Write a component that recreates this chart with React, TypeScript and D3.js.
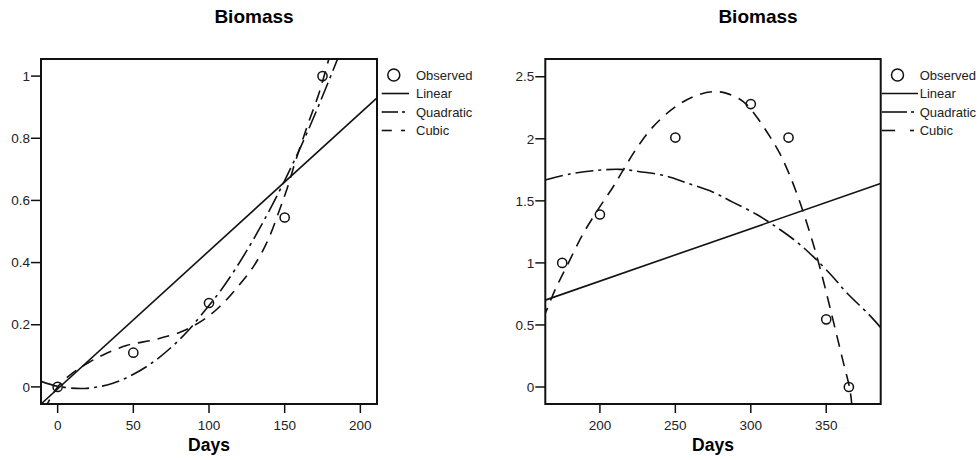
import React from 'react';
import * as d3 from 'd3';

// ---- data ----
const leftObserved: [number, number][] = [
  [0, 0], [50, 0.11], [100, 0.27], [150, 0.545], [175, 1.0],
];
const leftLinear: [number, number][] = [[-11, -0.055], [211, 0.93]];
const leftQuadratic: [number, number][] = [
  [-11, 0.018], [0, 0.002], [18, -0.005], [36, 0.011], [51, 0.043], [64, 0.083],
  [75, 0.127], [86, 0.18], [100, 0.262], [108, 0.312], [117, 0.376], [127, 0.455],
  [134, 0.515], [142, 0.587], [150, 0.664], [158, 0.745], [165, 0.82], [175, 0.935],
  [186, 1.068],
];
const leftCubic: [number, number][] = [
  [-9, -0.075], [0, 0.0], [10, 0.045], [20, 0.077], [31, 0.105], [46, 0.134],
  [64, 0.152], [82, 0.178], [96, 0.215], [107, 0.258], [119, 0.322], [130, 0.392],
  [139, 0.473], [147, 0.575], [152, 0.644], [157, 0.724], [165, 0.84], [173, 0.95],
  [180, 1.07],
];
const leftXTicks = [0, 50, 100, 150, 200];
const leftYTicks = [0, 0.2, 0.4, 0.6, 0.8, 1];

const rightObserved: [number, number][] = [
  [175, 1.0], [200, 1.39], [250, 2.01], [300, 2.28], [325, 2.01], [350, 0.545], [365, 0],
];
const rightLinear: [number, number][] = [[163.8, 0.7], [386, 1.64]];
const rightQuadratic: [number, number][] = [
  [163.8, 1.668], [180, 1.716], [195.6, 1.743], [213, 1.754], [226.5, 1.735],
  [244, 1.7], [257.4, 1.645], [275, 1.57], [288, 1.49], [304, 1.39], [315, 1.305],
  [330.3, 1.171], [341.4, 1.05], [354.6, 0.885], [363.5, 0.76], [377.8, 0.59], [386, 0.48],
];
const rightCubic: [number, number][] = [
  [162, 0.55], [163.8, 0.594], [170.2, 0.78], [179, 0.997], [189, 1.238], [200, 1.453],
  [208.8, 1.614], [215.5, 1.749], [224.3, 1.923], [235.3, 2.098], [248.6, 2.245],
  [261.9, 2.34], [275, 2.38], [284, 2.366], [295, 2.3], [303.8, 2.178], [312.7, 2.017],
  [319.3, 1.88], [326, 1.7], [332.5, 1.49], [339.2, 1.24], [343.6, 1.06], [348, 0.86],
  [352.4, 0.645], [356.8, 0.425], [361.3, 0.2], [365.7, -0.02], [367, -0.15],
];
const rightXTicks = [200, 250, 300, 350];
const rightYTicks = [0, 0.5, 1, 1.5, 2, 2.5];

const FONT = '"Liberation Sans", Arial, Helvetica, sans-serif';

type PanelProps = {
  id: string;
  x0: number;
  x1: number;
  xDomain: [number, number];
  yDomain: [number, number];
  xTicks: number[];
  yTicks: number[];
  observed: [number, number][];
  linear: [number, number][];
  quadratic: [number, number][];
  cubic: [number, number][];
  legendLine: [number, number];
};

const Panel = (p: PanelProps) => {
  const top = 59;
  const bottom = 404;
  const x = d3.scaleLinear().domain(p.xDomain).range([p.x0, p.x1]);
  const y = d3.scaleLinear().domain(p.yDomain).range([bottom, top]);

  const line = d3.line<[number, number]>()
    .x(d => x(d[0]))
    .y(d => y(d[1]))
    .curve(d3.curveCatmullRom.alpha(0.5));

  const [lx0, lx1] = p.legendLine;
  const legX = p.x1 + 39;
  const rows = [75, 93.5, 112, 130.5];
  const ink = '#111';

  return (
    <g>
      <defs>
        <clipPath id={p.id}>
          <rect x={p.x0} y={top} width={p.x1 - p.x0} height={bottom - top} />
        </clipPath>
      </defs>

      {/* title */}
      <text x={(p.x0 + p.x1) / 2 + 45} y={23} textAnchor="middle" fontFamily={FONT}
        fontSize={19} fontWeight="bold" fill="#000">Biomass</text>

      {/* curves */}
      <g clipPath={`url(#${p.id})`} fill="none" stroke={ink} strokeWidth={1.6}>
        <path d={line(p.linear) || ''} />
        <path d={line(p.quadratic) || ''} strokeDasharray="18,5,3,5" />
        <path d={line(p.cubic) || ''} strokeDasharray="12,8" />
      </g>

      {/* observed */}
      {p.observed.map((d, i) => (
        <circle key={i} cx={x(d[0])} cy={y(d[1])} r={4.6} fill="none" stroke={ink} strokeWidth={1.5} />
      ))}

      {/* frame */}
      <rect x={p.x0} y={top} width={p.x1 - p.x0} height={bottom - top} fill="none" stroke={ink} strokeWidth={2} />

      {/* y axis */}
      {p.yTicks.map(t => (
        <g key={'y' + t}>
          <line x1={p.x0 - 10} x2={p.x0} y1={y(t)} y2={y(t)} stroke={ink} strokeWidth={1.5} />
          <text x={p.x0 - 11} y={y(t)} dy="0.35em" textAnchor="end" fontFamily={FONT}
            fontSize={13.5} fill="#222">{d3.format('~g')(t)}</text>
        </g>
      ))}

      {/* x axis */}
      {p.xTicks.map(t => (
        <g key={'x' + t}>
          <line x1={x(t)} x2={x(t)} y1={bottom} y2={bottom + 9} stroke={ink} strokeWidth={1.5} />
          <text x={x(t)} y={430} textAnchor="middle" fontFamily={FONT}
            fontSize={13.5} fill="#222">{t}</text>
        </g>
      ))}
      <text x={(p.x0 + p.x1) / 2} y={451} textAnchor="middle" fontFamily={FONT}
        fontSize={17.5} fontWeight="bold" fill="#000">Days</text>

      {/* legend */}
      <g fontFamily={FONT} fontSize={13} fill="#222">
        <circle cx={p.x1 + 16.8} cy={rows[0]} r={6} fill="none" stroke={ink} strokeWidth={1.5} />
        <text x={legX} y={rows[0] + 4.5}>Observed</text>

        <line x1={lx0} x2={lx1} y1={rows[1]} y2={rows[1]} stroke={ink} strokeWidth={1.6} />
        <text x={legX} y={rows[1] + 4.5}>Linear</text>

        <line x1={lx0} x2={lx1 - 11} y1={rows[2]} y2={rows[2]} stroke={ink} strokeWidth={1.6} />
        <line x1={lx1 - 7} x2={lx1 - 4} y1={rows[2]} y2={rows[2]} stroke={ink} strokeWidth={1.6} />
        <text x={legX} y={rows[2] + 4.5}>Quadratic</text>

        <line x1={lx0} x2={lx0 + (lx1 - lx0) * 0.37} y1={rows[3]} y2={rows[3]} stroke={ink} strokeWidth={1.6} />
        <line x1={lx1 - 8} x2={lx1 - 4} y1={rows[3]} y2={rows[3]} stroke={ink} strokeWidth={1.6} />
        <text x={legX} y={rows[3] + 4.5}>Cubic</text>
      </g>
    </g>
  );
};

export default function App() {
  return (
    <svg width={978} height={460} style={{ position: 'absolute', left: 0, top: 0, background: '#fff' }}>
      <rect width={978} height={460} fill="#fff" />
      <Panel id="clipL" x0={41} x1={377} xDomain={[-11, 211]} yDomain={[-0.055, 1.055]}
        xTicks={leftXTicks} yTicks={leftYTicks}
        observed={leftObserved} linear={leftLinear} quadratic={leftQuadratic} cubic={leftCubic}
        legendLine={[381.7, 409]} />
      <Panel id="clipR" x0={545.3} x1={880.7} xDomain={[163.8, 386.1]} yDomain={[-0.137, 2.643]}
        xTicks={rightXTicks} yTicks={rightYTicks}
        observed={rightObserved} linear={rightLinear} quadratic={rightQuadratic} cubic={rightCubic}
        legendLine={[881.7, 918]} />
    </svg>
  );
}
